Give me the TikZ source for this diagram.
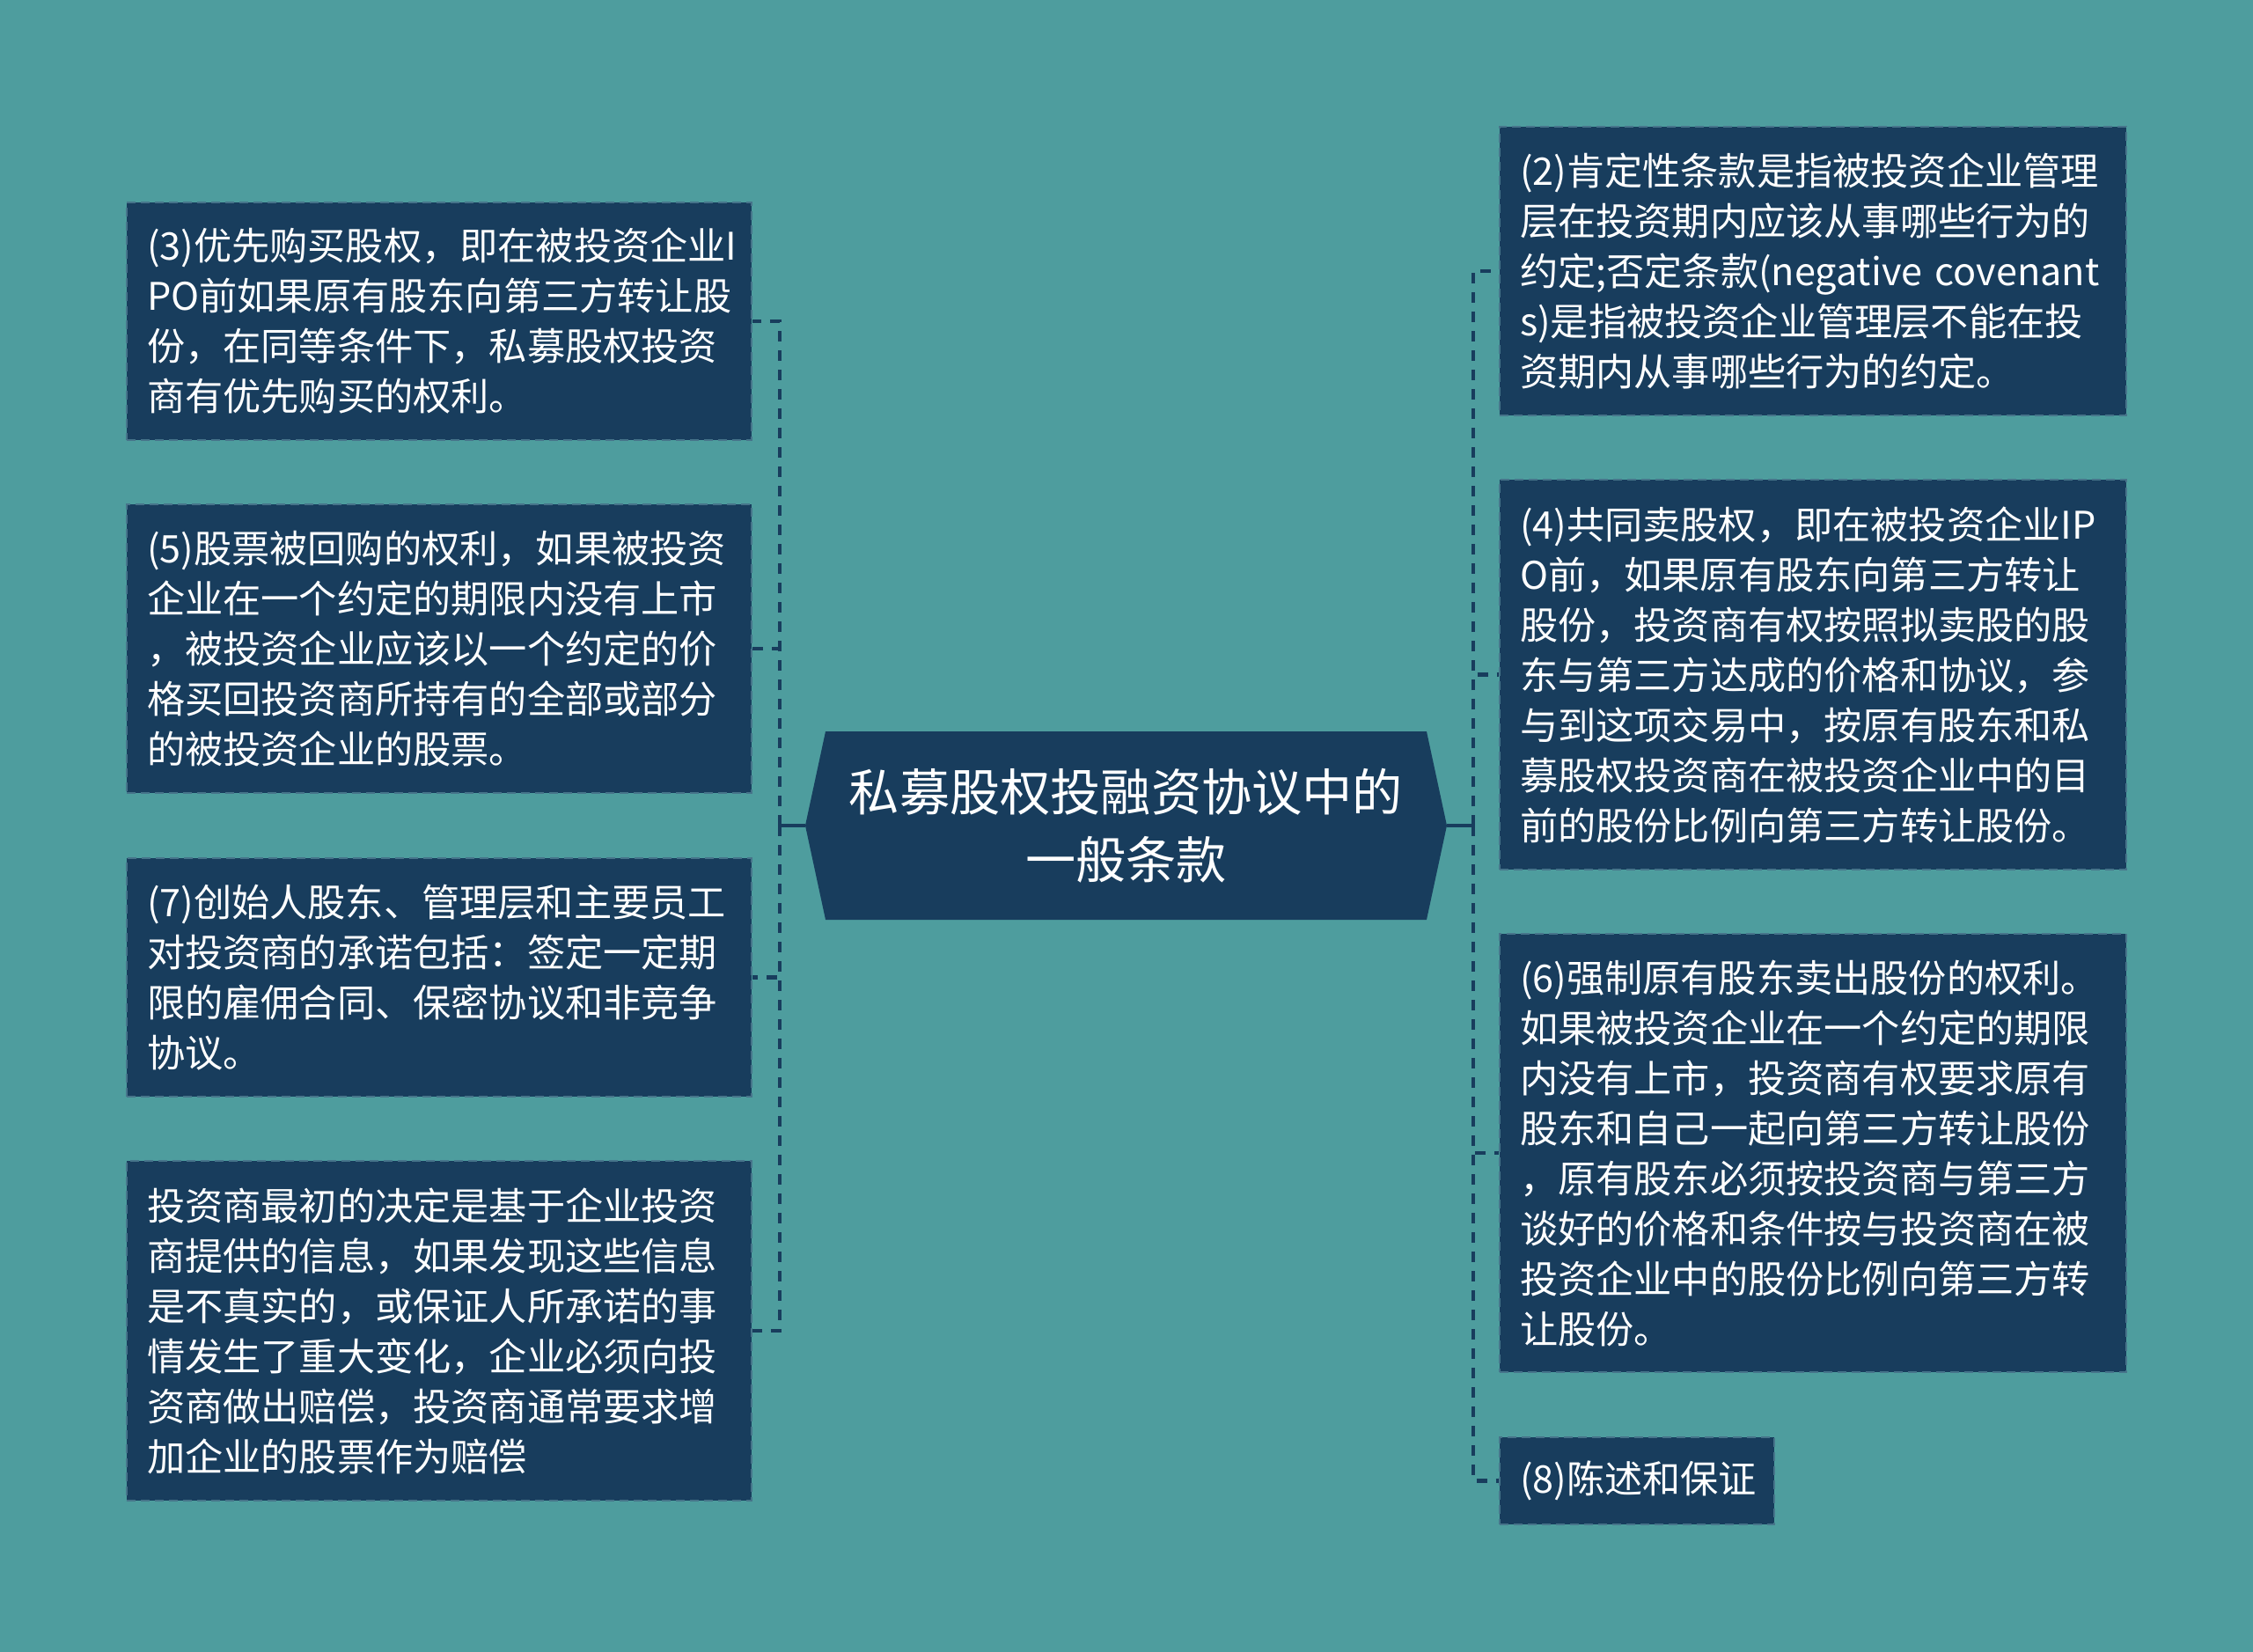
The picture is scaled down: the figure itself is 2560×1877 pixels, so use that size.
\documentclass[tikz,border=0pt]{standalone}
\usepackage{fontspec}
\setmainfont{Noto Sans CJK SC}
\usetikzlibrary{shapes.symbols}

\definecolor{sea}{RGB}{78,157,158}
\definecolor{navy}{RGB}{24,61,93}
\definecolor{rim}{RGB}{70,116,138}

\begin{document}
\begin{tikzpicture}[x=0.5pt, y=-0.5pt,
    leaf/.style={fill=navy, draw=rim, line width=1.2pt, dash pattern=on 5pt off 3pt,
      text=white, text width=#1, align=left, inner xsep=11.5pt, inner ysep=0pt,
      font=\fontsize{21.6}{28.5}\selectfont},
    link/.style={draw=navy, line width=2.4pt, dash pattern=on 6pt off 5pt},
    stub/.style={draw=navy, line width=2.4pt}]
  % background
  \fill[sea] (0,0) rectangle (2560,1877);

  % root
  \node[signal, signal to=east and west, signal pointer angle=155.7, fill=navy,
    text=white, align=center, minimum width=364.5pt, minimum height=107pt,
    inner sep=0pt, font=\fontsize{28.6}{38.4}\selectfont]
    (root) at (1279.5,938) {私募股权投融资协议中的\\一般条款};

  % left side
  \node[leaf=332pt, minimum height=135pt] (b3) at (499,365)
    {(3)优先购买股权，即在被投资企业I\\PO前如果原有股东向第三方转让股\\份，在同等条件下，私募股权投资\\商有优先购买的权利。};
  \node[leaf=332pt, minimum height=164pt] (b5) at (499,737)
    {(5)股票被回购的权利，如果被投资\\企业在一个约定的期限内没有上市\\，被投资企业应该以一个约定的价\\格买回投资商所持有的全部或部分\\的被投资企业的股票。};
  \node[leaf=332pt, minimum height=135.5pt] (b7) at (499,1110.5)
    {(7)创始人股东、管理层和主要员工\\对投资商的承诺包括：签定一定期\\限的雇佣合同、保密协议和非竞争\\协议。};
  \node[leaf=332pt, minimum height=193pt] (b9) at (499,1512)
    {投资商最初的决定是基于企业投资\\商提供的信息，如果发现这些信息\\是不真实的，或保证人所承诺的事\\情发生了重大变化，企业必须向投\\资商做出赔偿，投资商通常要求增\\加企业的股票作为赔偿};

  % right side
  \node[leaf=333pt, minimum height=164pt] (b2) at (2060,308)
    {(2)肯定性条款是指被投资企业管理\\层在投资期内应该从事哪些行为的\\约定;否定条款(negative covenant\\s)是指被投资企业管理层不能在投\\资期内从事哪些行为的约定。};
  \node[leaf=333pt, minimum height=221.5pt] (b4) at (2060,766.5)
    {(4)共同卖股权，即在被投资企业IP\\O前，如果原有股东向第三方转让\\股份，投资商有权按照拟卖股的股\\东与第三方达成的价格和协议，参\\与到这项交易中，按原有股东和私\\募股权投资商在被投资企业中的目\\前的股份比例向第三方转让股份。};
  \node[leaf=333pt, minimum height=249pt] (b6) at (2060,1310)
    {(6)强制原有股东卖出股份的权利。\\如果被投资企业在一个约定的期限\\内没有上市，投资商有权要求原有\\股东和自己一起向第三方转让股份\\，原有股东必须按投资商与第三方\\谈好的价格和条件按与投资商在被\\投资企业中的股份比例向第三方转\\让股份。};
  \node[leaf=133pt, minimum height=49.5pt] (b8) at (1860,1682.5)
    {(8)陈述和保证};

  % connectors
  \coordinate (lfork) at (886,938);
  \coordinate (rfork) at (1674,938);
  \draw[stub] (root.west) -- (lfork);
  \draw[stub] (root.east) -- (rfork);
  \foreach \b in {b3,b5,b7,b9}
    \draw[link] (lfork) |- (\b.east);
  \foreach \b in {b2,b4,b6,b8}
    \draw[link] (rfork) |- (\b.west);
\end{tikzpicture}
\end{document}
